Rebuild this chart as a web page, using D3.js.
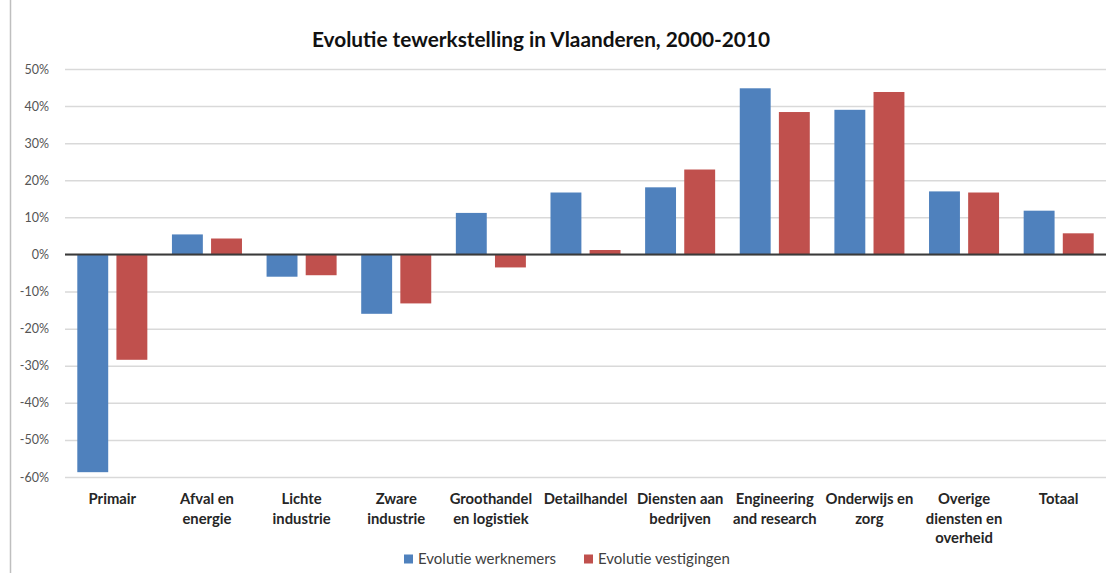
<!DOCTYPE html>
<html>
<head>
<meta charset="utf-8">
<script src="https://cdn.jsdelivr.net/npm/d3@7"></script>
<style>
  html, body { margin: 0; padding: 0; background: #fff; }
  svg { display: block; }
</style>
</head>
<body>
<svg id="chart" width="1107" height="573"></svg>
<script>
// Sector categories (line breaks follow the wrapped axis labels)
const categories = [
  "Primair", "Afval en\nenergie", "Lichte\nindustrie", "Zware\nindustrie",
  "Groothandel\nen logistiek", "Detailhandel", "Diensten aan\nbedrijven",
  "Engineering\nand research", "Onderwijs en\nzorg", "Overige\ndiensten en\noverheid", "Totaal"
];
// Series names
const seriesNames = ["Evolutie werknemers", "Evolutie vestigingen"];
// Change 2000-2010 (fractions)
const werknemers = [-0.587, 0.054, -0.060, -0.160, 0.112, 0.167, 0.181, 0.448, 0.390, 0.170, 0.118];
const vestigingen = [-0.284, 0.043, -0.056, -0.132, -0.035, 0.012, 0.229, 0.384, 0.438, 0.167, 0.057];
// Y axis ticks
const yTicks = [0.5, 0.4, 0.3, 0.2, 0.1, 0, -0.1, -0.2, -0.3, -0.4, -0.5, -0.6];
const colors = ["#4F81BD", "#C0504D"];

const svg = d3.select("#chart");
const font = "Lato, 'Open Sans', sans-serif";

const plot = { left: 65, right: 1106, top: 69, bottom: 477 };

const y = d3.scaleLinear().domain([-0.6, 0.5]).range([plot.bottom, plot.top]);
const x0 = d3.scaleBand().domain(d3.range(categories.length))
  .range([plot.left, plot.right]).paddingInner(0.26).paddingOuter(0.13);
const x1 = d3.scaleBand().domain([0, 1]).range([0, x0.bandwidth()]).paddingInner(0.21);

// Percent labels with a plain hyphen for negatives
const pct = d => Math.round(d * 100) + "%";

// Left chart border
svg.append("line").attr("x1", 10.5).attr("x2", 10.5).attr("y1", 0).attr("y2", 573)
  .attr("stroke", "#bfbfbf").attr("stroke-width", 1.5);

// Title
svg.append("text").attr("x", 541).attr("y", 47).attr("text-anchor", "middle")
  .attr("font-family", font).attr("font-weight", "bold").attr("font-size", 20.8)
  .attr("fill", "#111").text("Evolutie tewerkstelling in Vlaanderen, 2000-2010");

// Gridlines and tick labels
const yAxis = d3.axisLeft(y).tickValues(yTicks).tickSize(-(plot.right - plot.left))
  .tickFormat(pct);
const gAxis = svg.append("g").attr("transform", `translate(${plot.left},0)`).call(yAxis);
gAxis.select(".domain").remove();
gAxis.selectAll(".tick line").attr("stroke", "#d9d9d9").attr("stroke-width", 1.5);
gAxis.selectAll(".tick text").attr("x", -16).attr("font-family", font)
  .attr("font-size", 12.5).attr("fill", "#555");

// Bars
const series = [werknemers, vestigingen];
series.forEach((vals, s) => {
  svg.append("g").selectAll("rect").data(vals).join("rect")
    .attr("x", (d, i) => x0(i) + x1(s))
    .attr("width", x1.bandwidth())
    .attr("y", d => y(Math.max(0, d)))
    .attr("height", d => Math.abs(y(d) - y(0)))
    .attr("fill", colors[s]);
});

// Zero line
svg.append("line").attr("x1", plot.left).attr("x2", plot.right)
  .attr("y1", y(0)).attr("y2", y(0)).attr("stroke", "#3a3a3a").attr("stroke-width", 2);

// Category labels
const xAxis = d3.axisBottom(x0).tickSize(0).tickFormat(() => "");
const gx = svg.append("g").attr("transform", `translate(0,${plot.bottom})`).call(xAxis);
gx.select(".domain").remove();
gx.selectAll(".tick").each(function(i) {
  const t = d3.select(this).append("text").attr("y", 27).attr("text-anchor", "middle")
    .attr("font-family", font).attr("font-weight", "bold").attr("font-size", 14.8)
    .attr("fill", "#262626");
  categories[i].split("\n").forEach((line, k) => {
    t.append("tspan").attr("x", 0).attr("dy", k === 0 ? 0 : 19.5).text(line);
  });
});

// Legend
const legendX = [404, 584];
seriesNames.forEach((name, s) => {
  const g = svg.append("g").attr("transform", `translate(${legendX[s]},559)`);
  g.append("rect").attr("x", 0).attr("y", -4.5).attr("width", 9).attr("height", 9).attr("fill", colors[s]);
  g.append("text").attr("x", 14).attr("y", 5).attr("font-family", font)
    .attr("font-size", 15).attr("fill", "#404040").text(name);
});
</script>
</body>
</html>
